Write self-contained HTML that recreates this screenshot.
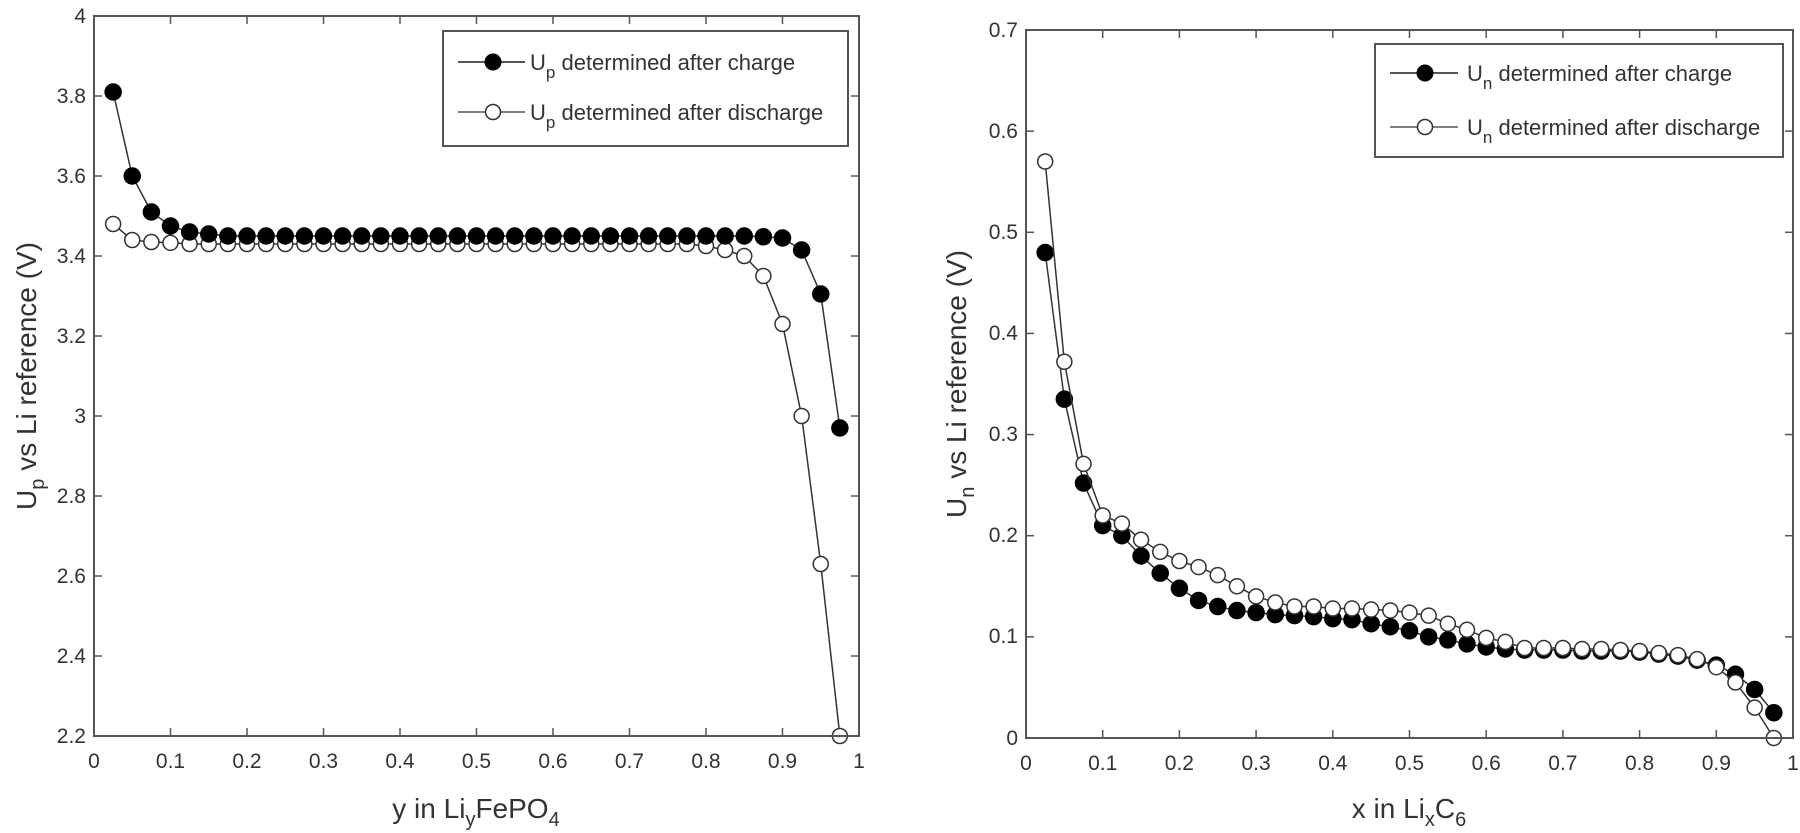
<!DOCTYPE html>
<html><head><meta charset="utf-8"><style>
html,body{margin:0;padding:0;background:#fff;}
svg{display:block;font-family:"Liberation Sans",Arial,sans-serif;}
.t{font-size:21px;fill:#333;}
.lab{font-size:28px;fill:#333;}
.lg{font-size:22px;fill:#333;}
</style></head><body>
<svg id="s" width="1800" height="833" viewBox="0 0 1800 833" xmlns="http://www.w3.org/2000/svg">
<g id="g1"></g>
<rect x="94" y="16" width="765" height="720" fill="none" stroke="#555" stroke-width="2"/>
<g class="t" text-anchor="end">
<text x="86" y="23">4</text><text x="86" y="103">3.8</text><text x="86" y="183">3.6</text>
<text x="86" y="263">3.4</text><text x="86" y="343">3.2</text><text x="86" y="423">3</text>
<text x="86" y="503">2.8</text><text x="86" y="583">2.6</text><text x="86" y="663">2.4</text>
<text x="86" y="743">2.2</text></g>
<g class="t" text-anchor="middle">
<text x="94" y="768">0</text><text x="170.5" y="768">0.1</text><text x="247" y="768">0.2</text>
<text x="323.5" y="768">0.3</text><text x="400" y="768">0.4</text><text x="476.5" y="768">0.5</text>
<text x="553" y="768">0.6</text><text x="629.5" y="768">0.7</text><text x="706" y="768">0.8</text>
<text x="782.5" y="768">0.9</text><text x="859" y="768">1</text></g>
<text class="lab" text-anchor="middle" x="476" y="818">y in Li<tspan font-size="20" dy="8">y</tspan><tspan dy="-8">FePO</tspan><tspan font-size="20" dy="8">4</tspan></text>
<text class="lab" text-anchor="middle" transform="translate(36,376) rotate(-90)">U<tspan font-size="20" dy="8">p</tspan><tspan dy="-8"> vs Li reference (V)</tspan></text>
<rect x="1026" y="30" width="767" height="708" fill="none" stroke="#555" stroke-width="2"/>
<g class="t" text-anchor="end">
<text x="1018" y="37">0.7</text><text x="1018" y="138">0.6</text><text x="1018" y="239">0.5</text>
<text x="1018" y="340">0.4</text><text x="1018" y="441">0.3</text><text x="1018" y="542">0.2</text>
<text x="1018" y="643">0.1</text><text x="1018" y="745">0</text></g>
<g class="t" text-anchor="middle">
<text x="1026" y="770">0</text><text x="1102.7" y="770">0.1</text><text x="1179.4" y="770">0.2</text>
<text x="1256.1" y="770">0.3</text><text x="1332.8" y="770">0.4</text><text x="1409.5" y="770">0.5</text>
<text x="1486.2" y="770">0.6</text><text x="1562.9" y="770">0.7</text><text x="1639.6" y="770">0.8</text>
<text x="1716.3" y="770">0.9</text><text x="1793" y="770">1</text></g>
<text class="lab" text-anchor="middle" x="1409" y="818">x in Li<tspan font-size="20" dy="8">x</tspan><tspan dy="-8">C</tspan><tspan font-size="20" dy="8">6</tspan></text>
<text class="lab" text-anchor="middle" transform="translate(966,384) rotate(-90)">U<tspan font-size="20" dy="8">n</tspan><tspan dy="-8"> vs Li reference (V)</tspan></text>
<rect x="443" y="31" width="405" height="115" fill="#fff" stroke="#555" stroke-width="2"/>
<line x1="458" y1="62" x2="525" y2="62" stroke="#555" stroke-width="2"/>
<circle cx="493" cy="62" r="8" fill="#000" stroke="#000"/>
<line x1="458" y1="112" x2="525" y2="112" stroke="#555" stroke-width="1.5"/>
<circle cx="493" cy="112" r="7.5" fill="#fff" stroke="#333" stroke-width="1.5"/>
<text class="lg" x="530" y="70">U<tspan font-size="17" dy="8">p</tspan><tspan dy="-8"> determined after charge</tspan></text>
<text class="lg" x="530" y="120">U<tspan font-size="17" dy="8">p</tspan><tspan dy="-8"> determined after discharge</tspan></text>
<rect x="1375" y="44" width="408" height="113" fill="#fff" stroke="#555" stroke-width="2"/>
<line x1="1390" y1="73" x2="1458" y2="73" stroke="#555" stroke-width="2"/>
<circle cx="1425" cy="73" r="8" fill="#000" stroke="#000"/>
<line x1="1390" y1="127" x2="1458" y2="127" stroke="#555" stroke-width="1.5"/>
<circle cx="1425" cy="127" r="7.5" fill="#fff" stroke="#333" stroke-width="1.5"/>
<text class="lg" x="1467" y="81">U<tspan font-size="17" dy="8">n</tspan><tspan dy="-8"> determined after charge</tspan></text>
<text class="lg" x="1467" y="135">U<tspan font-size="17" dy="8">n</tspan><tspan dy="-8"> determined after discharge</tspan></text>
</svg>
<script>
(function(){
var NS="http://www.w3.org/2000/svg",g=document.getElementById('g1');
function el(n,a){var e=document.createElementNS(NS,n);for(var k in a)e.setAttribute(k,a[k]);g.appendChild(e);return e;}
function ticks(L,R,T,B,nx,ny){for(var i=1;i<nx;i++){var x=L+(R-L)*i/nx;el('line',{x1:x,y1:B,x2:x,y2:B-8,stroke:'#555','stroke-width':1.5});el('line',{x1:x,y1:T,x2:x,y2:T+8,stroke:'#555','stroke-width':1.5});}
for(var j=1;j<ny;j++){var y=T+(B-T)*j/ny;el('line',{x1:L,y1:y,x2:L+8,y2:y,stroke:'#555','stroke-width':1.5});el('line',{x1:R,y1:y,x2:R-8,y2:y,stroke:'#555','stroke-width':1.5});}}
ticks(94,859,16,736,10,9);ticks(1026,1793,30,738,10,7);
var xs=[];for(var i=1;i<=39;i++)xs.push(i*0.025);
var pc=[3.81,3.60,3.51,3.475,3.46,3.455];while(pc.length<34)pc.push(3.45);pc.push(3.448,3.445,3.415,3.305,2.97);
var pd=[3.48,3.44,3.435,3.433];while(pd.length<31)pd.push(3.43);pd.push(3.425,3.415,3.40,3.35,3.23,3.00,2.63,2.2);
var nc=[.48,.335,.252,.21,.2,.18,.163,.148,.136,.13,.126,.124,.122,.121,.12,.118,.117,.113,.11,.106,.1,.097,.093,.09,.088,.087,.087,.087,.086,.086,.086,.085,.083,.081,.077,.072,.063,.048,.025];
var nd=[.57,.372,.271,.22,.212,.196,.184,.175,.169,.161,.15,.14,.134,.13,.13,.128,.128,.127,.126,.124,.121,.113,.107,.099,.095,.089,.089,.089,.088,.088,.087,.086,.084,.082,.078,.07,.055,.03,0];
function series(L,R,T,B,y0,y1,ys,filled){var pts=xs.map(function(x,i){return [L+(R-L)*x,B-(B-T)*(ys[i]-y0)/(y1-y0)];});
el('polyline',{points:pts.map(function(p){return p.join(',')}).join(' '),fill:'none',stroke:'#333','stroke-width':1.5});
pts.forEach(function(p){el('circle',{cx:p[0],cy:p[1],r:filled?8:7.5,fill:filled?'#000':'#fff',stroke:filled?'#000':'#333','stroke-width':1.5});});}
series(94,859,16,736,2.2,4,pd,false);series(94,859,16,736,2.2,4,pc,true);
series(1026,1793,30,738,0,0.7,nc,true);series(1026,1793,30,738,0,0.7,nd,false);
})();
</script>
</body></html>
